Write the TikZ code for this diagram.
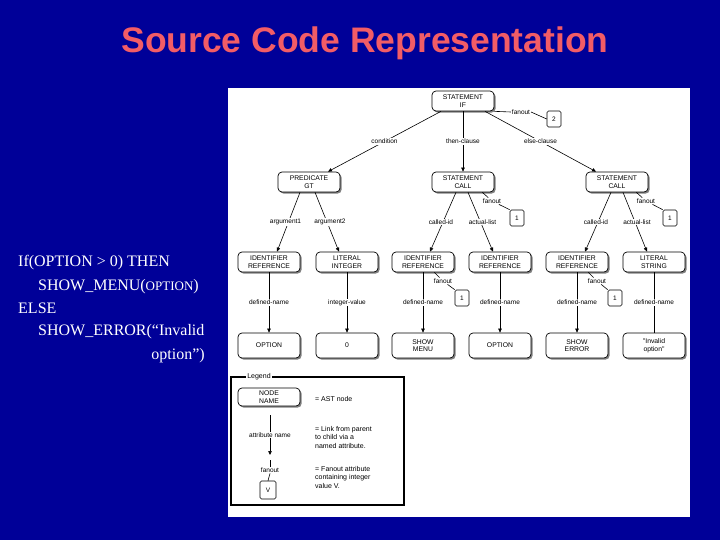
\documentclass[tikz,border=0pt]{standalone}
\usepackage{fontspec}
\setmainfont{Liberation Serif}
\newfontfamily\sansf{Liberation Sans}
\usetikzlibrary{arrows.meta,shadows,calc}
\definecolor{bgblue}{RGB}{0,0,152}
\definecolor{titlered}{RGB}{242,92,102}
\newcommand{\astf}{\sansf\fontsize{6.8}{7.6}\selectfont}
\newcommand{\lblf}{\sansf\fontsize{6.5}{7.5}\selectfont}
\newcommand{\legf}{\sansf\fontsize{7}{8.6}\selectfont}
\tikzset{
  ast/.style={draw, line width=0.7pt, rounded corners=4pt, fill=white,
    minimum width=62pt, minimum height=20pt, align=center, font=\astf, inner sep=0.5pt,
    drop shadow={shadow xshift=1.6pt, shadow yshift=-1.6pt, fill=black!50, opacity=1}},
  leaf/.style={ast, minimum height=25pt},
  elbl/.style={fill=white, inner sep=0.8pt, font=\lblf},
  fanbox/.style={draw, line width=0.6pt, rounded corners=1.5pt, fill=white,
    minimum width=14pt, minimum height=16pt, inner sep=0pt, font=\lblf},
  link/.style={line width=0.6pt, -{Triangle[length=4pt,width=3.5pt]}},
  plain/.style={line width=0.6pt},
  codef/.style={text=white, font=\fontsize{16}{18}\selectfont, anchor=base west, inner sep=0pt}
}
\begin{document}
\begin{tikzpicture}[x=1pt,y=-1pt]
\useasboundingbox (0,0) rectangle (720,540);
\fill[bgblue] (0,0) rectangle (720,540);
% title
\node[text=titlered, font=\sansf\bfseries\fontsize{35.5}{40}\selectfont] (title) at (365,43) {Source Code Representation};
% code
\node[codef] (c1) at (18,266) {If(OPTION > 0) THEN};
\node[codef] (c2) at (38,290) {SHOW\_MENU({\fontsize{13}{15}\selectfont OPTION})};
\node[codef] (c3) at (18,313) {ELSE};
\node[codef] (c4) at (38,335) {SHOW\_ERROR(“Invalid};
\node[codef, anchor=base east] (c5) at (205,359) {option”)};
% panel
\fill[white] (228,88) rectangle (690,517);
% tree nodes
\node[ast] (if) at (463,101) {STATEMENT\\IF};
\node[ast] (pred) at (309,182) {PREDICATE\\GT};
\node[ast] (call1) at (463,182) {STATEMENT\\CALL};
\node[ast] (call2) at (617,182) {STATEMENT\\CALL};
\node[ast] (n1) at (269,262) {IDENTIFIER\\REFERENCE};
\node[ast] (n2) at (347,262) {LITERAL\\INTEGER};
\node[ast] (n3) at (423,262) {IDENTIFIER\\REFERENCE};
\node[ast] (n4) at (500,262) {IDENTIFIER\\REFERENCE};
\node[ast] (n5) at (577,262) {IDENTIFIER\\REFERENCE};
\node[ast] (n6) at (654,262) {LITERAL\\STRING};
\node[leaf] (l1) at (269,345.5) {OPTION};
\node[leaf] (l2) at (347,345.5) {0};
\node[leaf] (l3) at (423,345.5) {SHOW\\MENU};
\node[leaf] (l4) at (500,345.5) {OPTION};
\node[leaf] (l5) at (577,345.5) {SHOW\\ERROR};
\node[leaf] (l6) at (654,345.5) {"Invalid\\option"};
% links
\draw[link] ([xshift=-22pt]if.south) -- node[elbl]{condition} ([xshift=19pt]pred.north);
\draw[link] (if.south) -- node[elbl]{then-clause} (call1.north);
\draw[link] ([xshift=22pt]if.south) -- node[elbl]{else-clause} ([xshift=-21pt]call2.north);
\draw[link] ([xshift=-9pt]pred.south) -- node[elbl, xshift=-3pt]{argument1} ([xshift=8pt]n1.north);
\draw[link] ([xshift=6pt]pred.south) -- node[elbl, xshift=3pt]{argument2} ([xshift=-8pt]n2.north);
\draw[link] ([xshift=-7pt]call1.south) -- node[elbl, xshift=-2pt]{called-id} ([xshift=7pt]n3.north);
\draw[link] ([xshift=5pt]call1.south) -- node[elbl, xshift=2pt]{actual-list} ([xshift=-7pt]n4.north);
\draw[link] ([xshift=-6pt]call2.south) -- node[elbl, xshift=-2pt]{called-id} ([xshift=8pt]n5.north);
\draw[link] ([xshift=6pt]call2.south) -- node[elbl, xshift=2pt]{actual-list} ([xshift=-7pt]n6.north);
\draw[link] (n1) -- node[elbl]{defined-name} (l1);
\draw[link] (n2) -- node[elbl]{integer-value} (l2);
\draw[link] (n3) -- node[elbl]{defined-name} (l3);
\draw[link] (n4) -- node[elbl]{defined-name} (l4);
\draw[link] (n5) -- node[elbl]{defined-name} (l5);
\draw[plain] (n6) -- node[elbl]{defined-name} (l6);
% fanouts
\node[elbl] (fo0) at (521,112) {fanout};
\node[fanbox] (bx0) at (554,119) {2};
\draw[plain] (if.south east) -- (fo0.west);
\draw[plain] (fo0.east) -- (bx0.west);
\node[elbl] (fo1) at (492,201) {fanout};
\node[fanbox] (bx1) at (517,218) {1};
\draw[plain] ([xshift=-12pt]call1.south east) -- (fo1);
\draw[plain] (fo1) -- (bx1.north west);
\node[elbl] (fo2) at (646,201) {fanout};
\node[fanbox] (bx2) at (670,218) {1};
\draw[plain] ([xshift=-12pt]call2.south east) -- (fo2);
\draw[plain] (fo2) -- (bx2.north west);
\node[elbl] (fo3) at (443,281) {fanout};
\node[fanbox] (bx3) at (462,298) {1};
\draw[plain] ([xshift=-20pt]n3.south east) -- (fo3);
\draw[plain] (fo3) -- (bx3.north west);
\node[elbl] (fo4) at (597,281) {fanout};
\node[fanbox] (bx4) at (615,298) {1};
\draw[plain] ([xshift=-20pt]n5.south east) -- (fo4);
\draw[plain] (fo4) -- (bx4.north west);
% legend
\node[draw, line width=1.5pt, minimum width=173pt, minimum height=128pt, inner sep=0pt] (legend) at (317.5,441) {};
\node[fill=white, font=\legf, inner sep=1.5pt] (legtitle) at (259,377) {Legend};
\node[ast, minimum height=18pt] (legnode) at (269,397) {NODE\\NAME};
\node[font=\legf, anchor=west, inner sep=0pt] (legt1) at (315,399) {= AST node};
\coordinate (la) at (270,415);
\coordinate (lb) at (270,455);
\draw[link] (la) -- node[elbl]{attribute name} (lb);
\node[font=\legf, anchor=north west, align=left, inner sep=0pt] (legt2) at (315,426) {= Link from parent\\to child via a\\named attribute.};
\coordinate (lc) at (270,460);
\node[elbl] (lfo) at (270,470) {fanout};
\node[fanbox, minimum width=16pt, minimum height=18pt] (lbx) at (268,490) {V};
\draw[plain] (lc) -- (lfo.north);
\draw[plain] (lfo.south) -- (lbx.north);
\node[font=\legf, anchor=north west, align=left, inner sep=0pt] (legt3) at (315,466) {= Fanout attribute\\containing integer\\value V.};
\end{tikzpicture}
\end{document}
